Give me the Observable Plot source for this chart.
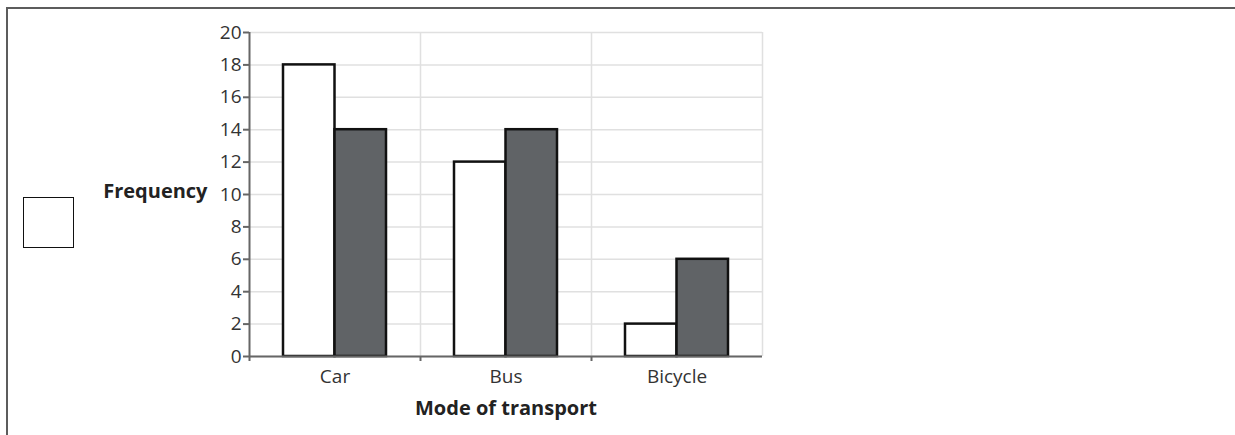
<!DOCTYPE html>
<html>
<head>
<meta charset="utf-8">
<script src="https://cdn.jsdelivr.net/npm/d3@7"></script>
<script src="https://cdn.jsdelivr.net/npm/@observablehq/plot@0.6"></script>
<style>
  html, body { margin: 0; padding: 0; background: #fff; overflow: hidden; }
  body { width: 1235px; height: 435px; position: relative; font-family: "Open Sans", sans-serif; }
  #frame { position: absolute; left: 6px; top: 7px; width: 1300px; height: 500px;
           border-top: 2px solid #5c5c5c; border-left: 2px solid #5c5c5c; }
  #legend { position: absolute; left: 23px; top: 197px; width: 49px; height: 49px;
            border: 1.5px solid #111; background: #fff; }
  #chart { position: absolute; left: 0; top: 0; }
</style>
</head>
<body>
<div id="frame"></div>
<div id="chart"></div>
<div id="legend"></div>
<script>
const categories = ["Car", "Bus", "Bicycle"];
const seriesWhite = [18, 12, 2];
const seriesDark = [14, 14, 6];
const yTicks = [0, 2, 4, 6, 8, 10, 12, 14, 16, 18, 20];
const yLabel = "Frequency";
const xLabel = "Mode of transport";

const whiteData = categories.map((c, i) => ({category: c, value: seriesWhite[i]}));
const darkData = categories.map((c, i) => ({category: c, value: seriesDark[i]}));

const axisColor = "#666";
const gridColor = "#e0e0e0";
const textColor = "#333";

const chart = Plot.plot({
  width: 1235,
  height: 435,
  marginLeft: 249,
  marginRight: 473,
  marginTop: 32,
  marginBottom: 79,
  style: {fontFamily: "'Open Sans', sans-serif", background: "transparent", color: textColor},
  x: {domain: categories, padding: 0, label: null},
  y: {domain: [0, 20], label: null},
  marks: [
    Plot.gridY(yTicks, {stroke: gridColor, strokeOpacity: 1, strokeWidth: 1.5}),
    Plot.ruleX(categories, {x: d => d, dx: 85.5, stroke: gridColor, strokeWidth: 1.5}),
    Plot.barY(whiteData, {x: "category", y: "value", fill: "#ffffff", stroke: "#111", strokeWidth: 2.5, insetLeft: 34, insetRight: 85.5}),
    Plot.barY(darkData, {x: "category", y: "value", fill: "#606366", stroke: "#111", strokeWidth: 2.5, insetLeft: 85.5, insetRight: 34}),
    Plot.ruleY([0], {stroke: axisColor, strokeWidth: 2}),
    Plot.ruleX([categories[0]], {x: d => d, dx: -85.5, y1: 20, y2: 0, insetBottom: -5, stroke: axisColor, strokeWidth: 2}),
    Plot.ruleX(categories.slice(1), {x: d => d, dx: -85.5, y1: 0, y2: 0, insetBottom: -5, stroke: axisColor, strokeWidth: 2}),
    Plot.axisY(yTicks, {tickSize: 6, tickPadding: 2, fontSize: 19, stroke: axisColor, strokeWidth: 2, fill: textColor, label: null}),
    Plot.axisX({tickSize: 0, tickPadding: 13, fontSize: 19, fill: textColor, label: null}),
    Plot.text([yLabel], {frameAnchor: "left", dx: -42, dy: -3, textAnchor: "end", fontSize: 20, fontWeight: "bold", fill: "#222"}),
    Plot.text([xLabel], {frameAnchor: "bottom", dy: 58, fontSize: 20, fontWeight: "bold", fill: "#222"})
  ]
});
document.getElementById("chart").appendChild(chart);
</script>
</body>
</html>
